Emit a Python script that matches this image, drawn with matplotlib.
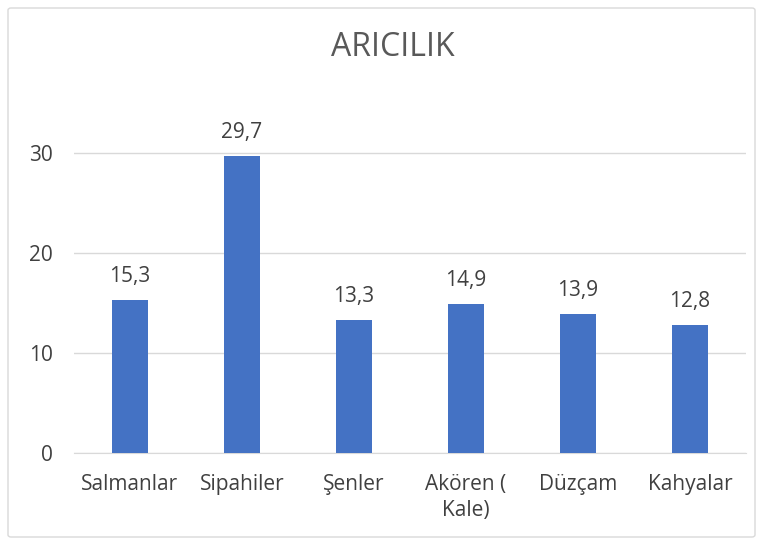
import matplotlib
matplotlib.use("Agg")
import matplotlib.pyplot as plt
from matplotlib.patches import FancyBboxPatch

categories = ["Salmanlar", "Sipahiler", "Şenler", "Akören (\nKale)", "Düzçam", "Kahyalar"]
values = [15.3, 29.7, 13.3, 14.9, 13.9, 12.8]
labels = ["15,3", "29,7", "13,3", "14,9", "13,9", "12,8"]
yticks = [0, 10, 20, 30]

plt.rcParams['font.family'] = ['Open Sans', 'DejaVu Sans']
txt = "#404040"

fig = plt.figure(figsize=(7.63, 5.45), dpi=100)
fig.patch.set_facecolor("white")
border = FancyBboxPatch((8/763, 8/545), 747/763, 529/545, boxstyle="round,pad=0,rounding_size=0.004",
                        transform=fig.transFigure, fill=False, edgecolor="#D9D9D9", linewidth=1)
fig.patches.append(border)

ax = fig.add_axes([74/763, (545-453)/545, 672/763, 350/545])
x = list(range(len(categories)))
ax.bar(x, values, width=0.32, color="#4472C4", zorder=3)
for xi, v, l in zip(x, values, labels):
    ax.text(xi, v + 1.3, l, ha="center", va="bottom", fontsize=15, color=txt)

ax.set_xlim(-0.5, len(categories) - 0.5)
ax.set_ylim(0, 35)
ax.set_yticks(yticks)
ax.set_yticklabels([str(t) for t in yticks], fontsize=15, color=txt)
ax.set_xticks(x)
ax.set_xticklabels(categories, fontsize=15, color=txt, linespacing=1.35)
ax.tick_params(axis="x", length=0, pad=15)
ax.tick_params(axis="y", length=0, pad=15)
ax.grid(axis="y", color="#D9D9D9", linewidth=1, zorder=0)
for s in ["top", "right", "left"]:
    ax.spines[s].set_visible(False)
ax.spines["bottom"].set_color("#D9D9D9")
ax.set_facecolor("none")

fig.text(393/763, 1 - 47/545, "ARICILIK", ha="center", va="center", fontsize=23, color="#595959")

fig.savefig("out.png", dpi=100)
